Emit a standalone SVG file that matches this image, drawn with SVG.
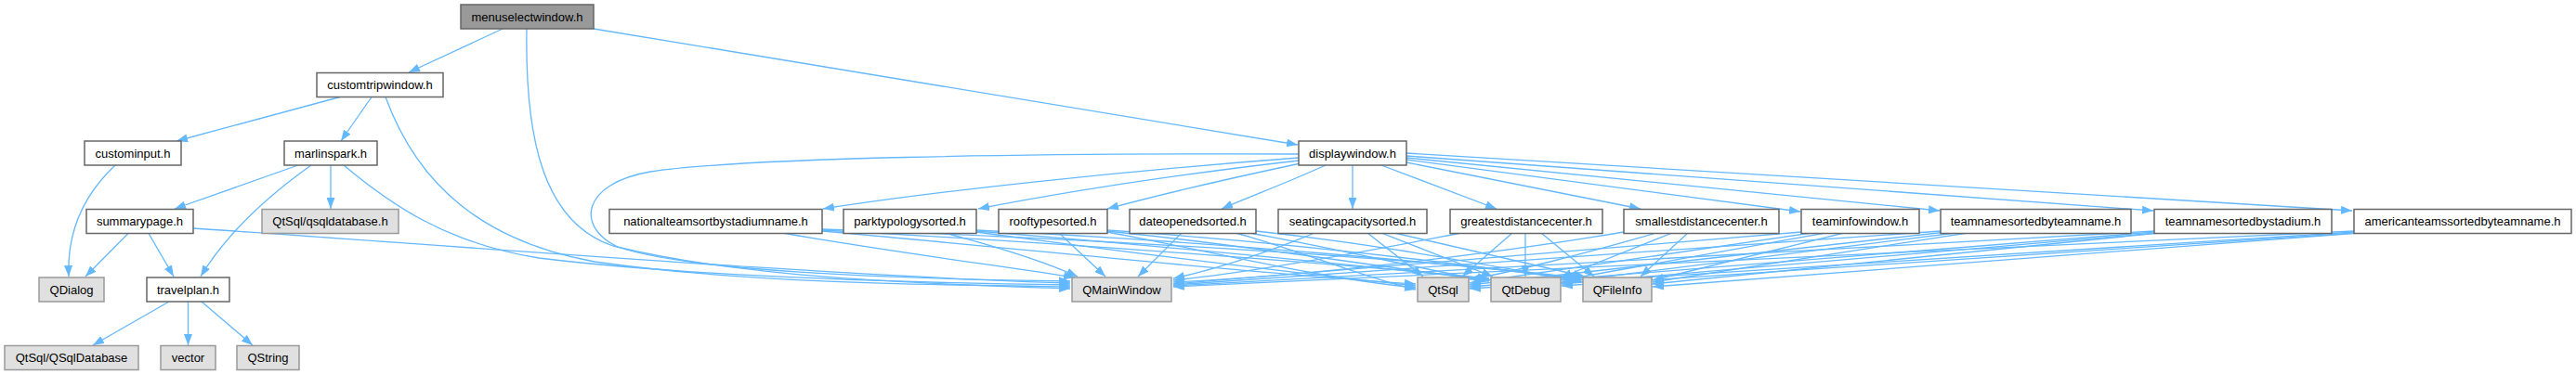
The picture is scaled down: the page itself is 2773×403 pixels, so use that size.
<svg xmlns="http://www.w3.org/2000/svg" width="2773" height="403" viewBox="0 0 2773 403">
<style>
rect{stroke-width:1.5}
.n rect{fill:#ffffff;stroke:#666666}
.g rect{fill:#e0e0e0;stroke:#999999}
.r rect{fill:#999999;stroke:#666666}
text{font-family:"Liberation Sans",Arial,Helvetica,sans-serif;font-size:13px;text-anchor:middle;fill:#000}
#edges path{fill:none;stroke:#63b8ff;stroke-width:1.3;marker-end:url(#ah)}
</style>
<defs>
<marker id="ah" markerUnits="userSpaceOnUse" markerWidth="12" markerHeight="9" refX="12" refY="4.5" orient="auto"><path d="M0,0 L12,4.5 L0,9 z" fill="#63b8ff"/></marker>
</defs>
<rect width="2773" height="403" fill="#ffffff"/>
<g id="edges">
<path d="M541,31 L440,78"/>
<path d="M567,31 C565,150 585,240 660,265 C800,300 1000,306 1152,311"/>
<path d="M639,31 L1397,156"/>
<path d="M366,104.5 L190,152"/>
<path d="M400,104.5 L367,152"/>
<path d="M415,104.5 C450,200 520,260 640,282 C800,305 1000,307 1152,309"/>
<path d="M321,178 L188,225"/>
<path d="M335,178 C290,210 245,250 216,298"/>
<path d="M356,178 L356,225"/>
<path d="M370,178 C420,220 480,262 580,278 C760,300 1000,305 1152,307"/>
<path d="M124,178 C90,210 72,250 74,298"/>
<path d="M138,251.5 L92,298"/>
<path d="M160,251.5 L187,298"/>
<path d="M208,246 C450,262 900,298 1152,305"/>
<path d="M182,325 L100,372"/>
<path d="M202.5,325 L202.5,372"/>
<path d="M217,325 L272,372"/>
<path d="M1398,166 C1100,165 800,170 700,185 C625,198 620,245 665,266 C740,292 950,300 1152,303"/>
<path d="M1398,170 C1200,185 1000,207 886,225"/>
<path d="M1398,173 C1250,190 1130,210 1053,225"/>
<path d="M1400,176 C1320,193 1240,212 1192,225"/>
<path d="M1427,178 C1390,195 1345,212 1315,225"/>
<path d="M1456,178 L1456,225"/>
<path d="M1487,178 L1611,225"/>
<path d="M1514,175 L1766,225"/>
<path d="M1514,172 L1938,228"/>
<path d="M1514,170 L2088,227"/>
<path d="M1514,168 L2318,227"/>
<path d="M1514,165 L2532,227"/>
<path d="M842,251 C950,270 1080,287 1157,299"/>
<path d="M885,249 C1100,268 1350,295 1524,306"/>
<path d="M885,248 C1150,262 1450,285 1603,300"/>
<path d="M885,247 C1200,258 1550,280 1702,300"/>
<path d="M1017,251 C1070,265 1120,280 1160,298"/>
<path d="M1051,250 C1200,270 1400,295 1524,308"/>
<path d="M1051,249 C1250,265 1480,288 1603,301"/>
<path d="M1051,248 C1300,260 1580,285 1702,301"/>
<path d="M1140,251 L1190,298"/>
<path d="M1192,250 C1300,270 1420,300 1524,310"/>
<path d="M1192,249 C1350,265 1500,290 1603,302"/>
<path d="M1192,248 C1400,262 1600,288 1702,302"/>
<path d="M1272,251 L1225,298"/>
<path d="M1330,251 C1400,270 1470,300 1524,312"/>
<path d="M1345,251 C1450,270 1540,292 1603,303"/>
<path d="M1352,249 C1500,265 1620,290 1702,303"/>
<path d="M1415,251 C1370,270 1310,290 1263,300"/>
<path d="M1472,251 L1532,298"/>
<path d="M1487,251 L1607,298"/>
<path d="M1501,251 L1706,298"/>
<path d="M1573,251 C1450,275 1330,295 1263,302"/>
<path d="M1628,251 L1574,298"/>
<path d="M1642,251 L1642,298"/>
<path d="M1659,251 L1716,298"/>
<path d="M1748,250 C1600,275 1400,298 1263,304"/>
<path d="M1783,251 C1700,275 1620,295 1582,301"/>
<path d="M1800,251 L1680,299"/>
<path d="M1817,251 L1766,298"/>
<path d="M1939,250 L1263,306"/>
<path d="M1950,251 L1582,305"/>
<path d="M1965,251 L1681,302"/>
<path d="M1985,251 L1779,302"/>
<path d="M2089,249 L1263,307"/>
<path d="M2095,250 L1582,307"/>
<path d="M2105,251 L1681,304"/>
<path d="M2118,251 L1779,304"/>
<path d="M2319,249 L1263,308"/>
<path d="M2319,250 L1582,309"/>
<path d="M2322,251 L1681,306"/>
<path d="M2325,251 L1779,306"/>
<path d="M2534,249 L1263,309"/>
<path d="M2534,250 L1582,311"/>
<path d="M2536,251 L1681,308"/>
<path d="M2540,251 L1779,309"/>
</g>
<g id="menuselectwindow" class="r"><rect x="496" y="5" width="143" height="26"/><text x="567.5" y="22.5">menuselectwindow.h</text></g>
<g id="customtripwindow" class="n"><rect x="341" y="78.5" width="136" height="26"/><text x="409" y="96">customtripwindow.h</text></g>
<g id="custominput" class="n"><rect x="91" y="152" width="104" height="26"/><text x="143" y="169.5">custominput.h</text></g>
<g id="marlinspark" class="n"><rect x="306" y="152" width="100" height="26"/><text x="356" y="169.5">marlinspark.h</text></g>
<g id="displaywindow" class="n"><rect x="1398" y="152" width="116" height="26"/><text x="1456" y="169.5">displaywindow.h</text></g>
<g id="summarypage" class="n"><rect x="93" y="225.5" width="115" height="26"/><text x="150.5" y="243">summarypage.h</text></g>
<g id="qsqldatabase_h" class="g"><rect x="282" y="225.5" width="147" height="26"/><text x="355.5" y="243">QtSql/qsqldatabase.h</text></g>
<g id="nationalteamsortbystadiumname" class="n"><rect x="656" y="225.5" width="229" height="26"/><text x="770.5" y="243">nationalteamsortbystadiumname.h</text></g>
<g id="parktypologysorted" class="n"><rect x="908" y="225.5" width="143" height="26"/><text x="979.5" y="243">parktypologysorted.h</text></g>
<g id="rooftypesorted" class="n"><rect x="1075" y="225.5" width="117" height="26"/><text x="1133.5" y="243">rooftypesorted.h</text></g>
<g id="dateopenedsorted" class="n"><rect x="1216" y="225.5" width="136" height="26"/><text x="1284" y="243">dateopenedsorted.h</text></g>
<g id="seatingcapacitysorted" class="n"><rect x="1376" y="225.5" width="160" height="26"/><text x="1456" y="243">seatingcapacitysorted.h</text></g>
<g id="greatestdistancecenter" class="n"><rect x="1561" y="225.5" width="164" height="26"/><text x="1643" y="243">greatestdistancecenter.h</text></g>
<g id="smallestdistancecenter" class="n"><rect x="1748" y="225.5" width="167" height="26"/><text x="1831.5" y="243">smallestdistancecenter.h</text></g>
<g id="teaminfowindow" class="n"><rect x="1939" y="225.5" width="127" height="26"/><text x="2002.5" y="243">teaminfowindow.h</text></g>
<g id="teamnamesortedbyteamname" class="n"><rect x="2089" y="225.5" width="205" height="26"/><text x="2191.5" y="243">teamnamesortedbyteamname.h</text></g>
<g id="teamnamesortedbystadium" class="n"><rect x="2319" y="225.5" width="191" height="26"/><text x="2414.5" y="243">teamnamesortedbystadium.h</text></g>
<g id="americanteamssortedbyteamname" class="n"><rect x="2534" y="225.5" width="234" height="26"/><text x="2651" y="243">americanteamssortedbyteamname.h</text></g>
<g id="QDialog" class="g"><rect x="42" y="299" width="70" height="26"/><text x="77" y="316.5">QDialog</text></g>
<g id="travelplan" class="n"><rect x="158" y="299" width="89" height="26"/><text x="202.5" y="316.5">travelplan.h</text></g>
<g id="QMainWindow" class="g"><rect x="1154" y="299" width="107" height="26"/><text x="1207.5" y="316.5">QMainWindow</text></g>
<g id="QtSql" class="g"><rect x="1526" y="299" width="55" height="26"/><text x="1553.5" y="316.5">QtSql</text></g>
<g id="QtDebug" class="g"><rect x="1605" y="299" width="75" height="26"/><text x="1642.5" y="316.5">QtDebug</text></g>
<g id="QFileInfo" class="g"><rect x="1704" y="299" width="74" height="26"/><text x="1741" y="316.5">QFileInfo</text></g>
<g id="QSqlDatabase" class="g"><rect x="5" y="372.5" width="144" height="26"/><text x="77" y="390">QtSql/QSqlDatabase</text></g>
<g id="vector" class="g"><rect x="173" y="372.5" width="59" height="26"/><text x="202.5" y="390">vector</text></g>
<g id="QString" class="g"><rect x="255" y="372.5" width="67" height="26"/><text x="288.5" y="390">QString</text></g>
</svg>
